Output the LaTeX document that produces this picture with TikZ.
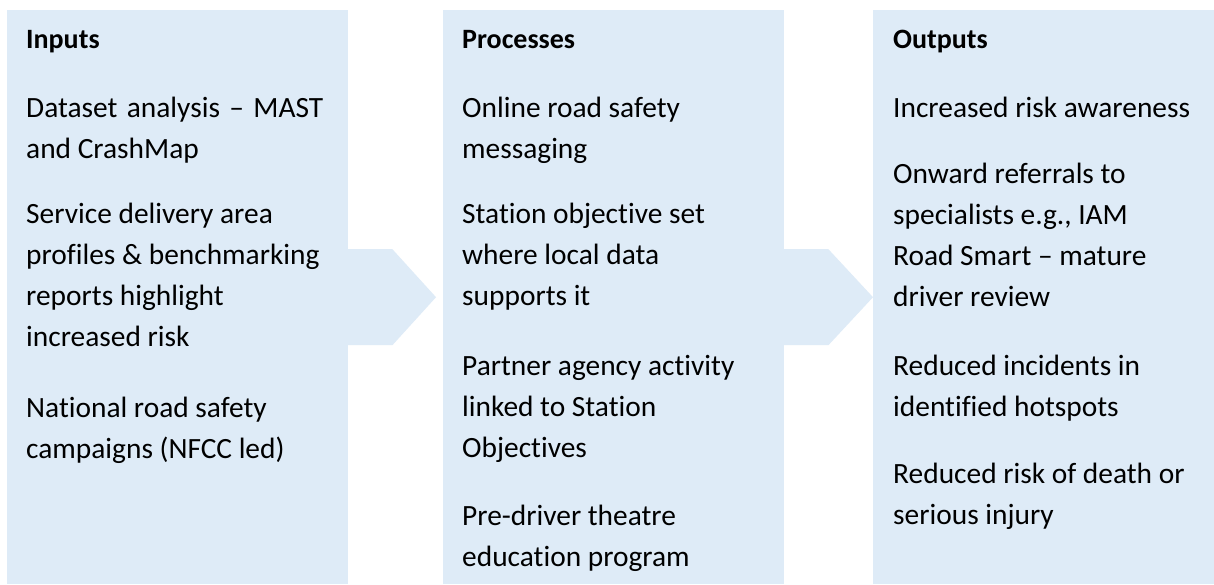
\documentclass[tikz,border=0pt]{standalone}
\usepackage{fontspec}
\setmainfont{Carlito}[Ligatures={NoCommon}]
\usetikzlibrary{calc}
\definecolor{boxblue}{HTML}{DEEBF7}
\newcommand\colpar[1]{\parbox[t]{330pt}{\raggedright\fontsize{29.4}{41.3}\selectfont #1}}
\begin{document}
\begin{tikzpicture}[x=1pt,y=-1pt,
  panel/.style={fill=boxblue, draw=none, inner sep=0, anchor=north west,
                minimum width=341pt, minimum height=574pt},
  chevron/.style={fill=boxblue, draw=none},
  head/.style={anchor=base west, inner sep=0, font=\fontsize{28}{33}\selectfont\bfseries},
  item/.style={anchor=base west, inner sep=0}]
\useasboundingbox (0,0) rectangle (1214,584);
\fill[white] (0,0) rectangle (1214,584);
% panels
\node[panel] (inputs)  at (7,10)   {};
\node[panel] (process) at (443,10) {};
\node[panel] (outputs) at (873,10) {};
% chevron arrows
\fill[chevron] ($(inputs.east)+(-6,-48)$) -- ($(inputs.east)+(44,-48)$)
  -- ($(process.west)+(-7,0)$) -- ($(inputs.east)+(44,48)$)
  -- ($(inputs.east)+(-6,48)$) -- cycle;
\fill[chevron] ($(process.east)+(-6,-48)$) -- ($(process.east)+(44,-48)$)
  -- (outputs.west) -- ($(process.east)+(44,48)$)
  -- ($(process.east)+(-6,48)$) -- cycle;
% column 1
\node[head] (h1) at (26,48) {Inputs};
\node[item] (i1) at (26,117) {\colpar{\makebox[297pt][s]{Dataset analysis – MAST}\\and CrashMap}};
\node[item] (i2) at (26,223) {\colpar{Service delivery area\\profiles \& benchmarking\\reports highlight\\increased risk}};
\node[item] (i3) at (26,417) {\colpar{National road safety\\campaigns (NFCC led)}};
% column 2
\node[head] (h2) at (462,48) {Processes};
\node[item] (p1) at (462,117) {\colpar{Online road safety\\messaging}};
\node[item] (p2) at (462,223) {\colpar{Station objective set\\where local data\\supports it}};
\node[item] (p3) at (462,375) {\colpar{Partner agency activity\\linked to Station\\Objectives}};
\node[item] (p4) at (462,525) {\colpar{Pre-driver theatre\\education program}};
% column 3
\node[head] (h3) at (893,48) {Outputs};
\node[item] (o1) at (893,117) {\colpar{Increased risk awareness}};
\node[item] (o2) at (893,183) {\colpar{Onward referrals to\\specialists e.g., IAM\\Road Smart – mature\\driver review}};
\node[item] (o3) at (893,375) {\colpar{Reduced incidents in\\identified hotspots}};
\node[item] (o4) at (893,483) {\colpar{Reduced risk of death or\\serious injury}};
\end{tikzpicture}
\end{document}
